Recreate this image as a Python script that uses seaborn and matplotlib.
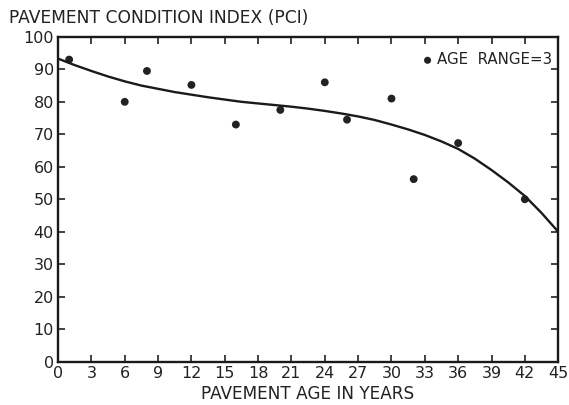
import matplotlib
matplotlib.use("Agg")
import matplotlib.pyplot as plt
import seaborn as sns
import pandas as pd

# observed points
age = [1, 6, 8, 12, 16, 20, 24, 26, 30, 32, 36, 42]
pci = [93, 80, 89.5, 85.2, 73, 77.5, 86, 74.5, 81, 56.2, 67.3, 50]

# fitted curve
curve_age = [0, 1.5, 3, 4.5, 6, 7.5, 9, 10.5, 12, 13.5, 15, 16.5, 18, 19.5, 21,
             22.5, 24, 25.5, 27, 28.5, 30, 31.5, 33, 34.5, 36, 37.5, 39, 40.5,
             42, 43.5, 45]
curve_pci = [93.3, 91.3, 89.5, 87.8, 86.3, 85.0, 84.0, 83.0, 82.2, 81.4, 80.7,
             80.0, 79.5, 79.0, 78.5, 77.9, 77.2, 76.4, 75.5, 74.4, 73.0, 71.5,
             69.8, 67.8, 65.5, 62.5, 59.0, 55.2, 51.0, 45.8, 40.0]

x_ticks = list(range(0, 46, 3))
y_ticks = list(range(0, 101, 10))

sns.set_theme(style="white")
plt.rcParams['font.family'] = ['DejaVu Sans']

fig = plt.figure(figsize=(5.69, 4.05), dpi=100)
ax = fig.add_axes([0.102, 0.107, 0.879, 0.802])

pts = pd.DataFrame({"age": age, "pci": pci})
crv = pd.DataFrame({"age": curve_age, "pci": curve_pci})

sns.lineplot(data=crv, x="age", y="pci", ax=ax, color="#1a1a1a", linewidth=1.7,
             legend=False)
sns.scatterplot(data=pts, x="age", y="pci", ax=ax, color="#222222", s=32,
                edgecolor="none", label="AGE  RANGE=3")

ax.set_xlim(0, 45)
ax.set_ylim(0, 100)
ax.set_xticks(x_ticks)
ax.set_yticks(y_ticks)
ax.set_xticklabels([str(t) for t in x_ticks], fontsize=11.5, color="#222222")
ax.set_yticklabels([str(t) for t in y_ticks], fontsize=11.5, color="#222222")
ax.tick_params(direction="in", length=5, width=1.2, top=True, right=True,
               bottom=True, left=True, colors="#222222", pad=3)
for sp in ax.spines.values():
    sp.set_linewidth(1.7)
    sp.set_color("#1a1a1a")
    sp.set_visible(True)

ax.set_xlabel("PAVEMENT AGE IN YEARS", fontsize=12.2, color="#222222", labelpad=3)
ax.set_ylabel("")
fig.text(0.016, 0.955, "PAVEMENT CONDITION INDEX (PCI)", fontsize=12.3,
         color="#222222", ha="left", va="center")

leg = ax.legend(loc="upper right", bbox_to_anchor=(1.008, 0.985), frameon=False,
                fontsize=10.8, handlelength=0.8, handletextpad=0.2,
                borderaxespad=0.3, markerscale=0.9)
for t in leg.get_texts():
    t.set_color("#222222")

fig.savefig("out.png", dpi=100, facecolor="white")
